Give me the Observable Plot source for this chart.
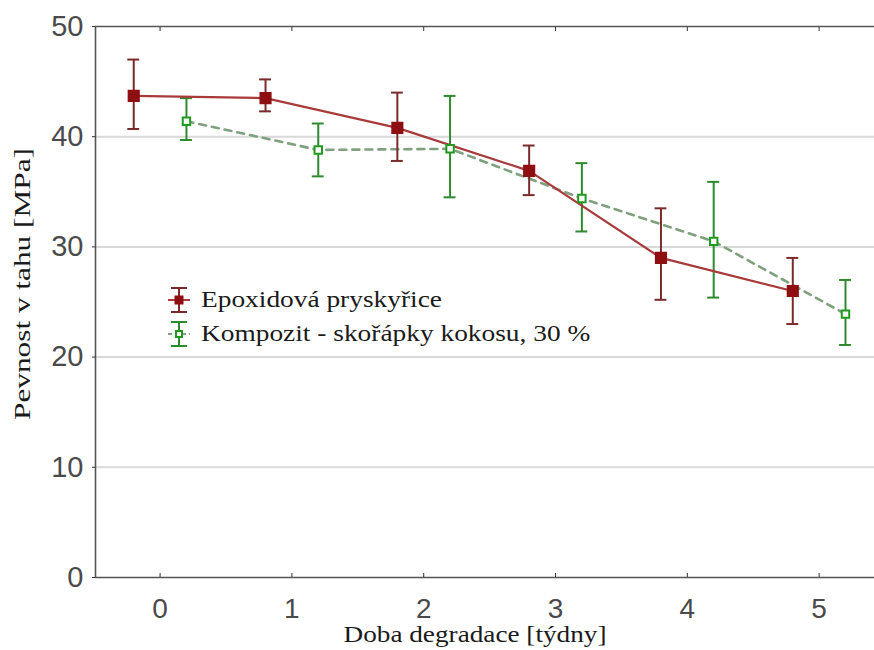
<!DOCTYPE html>
<html>
<head>
<meta charset="utf-8">
<script src="https://cdn.jsdelivr.net/npm/d3@7"></script>
<script src="https://cdn.jsdelivr.net/npm/@observablehq/plot@0.6"></script>
<style>
  html, body { margin: 0; padding: 0; background: #fff; }
  #wrap { position: relative; width: 874px; height: 650px; overflow: hidden; }
  #legend { position: absolute; left: 165px; top: 283px; font-family: "Liberation Serif", "DejaVu Serif", serif; font-size: 23px; color: #1a1a1a; }
  #legend .row { display: flex; align-items: center; height: 34px; white-space: nowrap; }
  #legend svg { margin-right: 8px; flex: none; }
  #legend span { display: inline-block; transform: scaleX(1.19); transform-origin: left center; }
</style>
</head>
<body>
<div id="wrap">
  <div id="chart"></div>
  <div id="legend"></div>
</div>
<script>
// ---- data ----
const weeks = [0, 1, 2, 3, 4, 5];
const seriesNames = ["Epoxidová pryskyřice", "Kompozit - skořápky kokosu, 30 %"];
const epoxyMean = [43.7, 43.5, 40.8, 36.9, 29.0, 26.0];
const epoxyLow  = [40.7, 42.3, 37.8, 34.7, 25.2, 23.0];
const epoxyHigh = [47.0, 45.2, 44.0, 39.2, 33.5, 29.0];
const compMean  = [41.4, 38.8, 38.9, 34.4, 30.5, 23.9];
const compLow   = [39.7, 36.4, 34.5, 31.4, 25.4, 21.1];
const compHigh  = [43.5, 41.2, 43.7, 37.6, 35.9, 27.0];
const xTicks = [0, 1, 2, 3, 4, 5];
const yTicks = [0, 10, 20, 30, 40, 50];
const xTitle = "Doba degradace [týdny]";
const yTitle = "Pevnost v tahu [MPa]";

// ---- styling ----
const dodge = 0.2;
const capHalf = 0.045;
const redLine = "#a83a3a", redMark = "#8e0f12", redBar = "#7a2a2a";
const greenMark = "#1e9a1e", greenBar = "#2e8a2e", greenLine = "#7fa07f";
const serif = "Liberation Serif, Times New Roman, serif";
const sans = "Liberation Sans, Arial, sans-serif";

const epoxy = weeks.map((w, i) => ({x: w - dodge, y: epoxyMean[i], lo: epoxyLow[i], hi: epoxyHigh[i]}));
const comp  = weeks.map((w, i) => ({x: w + dodge, y: compMean[i], lo: compLow[i], hi: compHigh[i]}));

const caps = (arr) => arr.flatMap(d => [{x1: d.x - capHalf, x2: d.x + capHalf, y: d.lo}, {x1: d.x - capHalf, x2: d.x + capHalf, y: d.hi}]);

const xDomain = [-0.49, 5.42];
const chart = Plot.plot({
  width: 874,
  height: 650,
  marginLeft: 95,
  marginRight: 0,
  marginTop: 26,
  marginBottom: 73,
  style: {background: "transparent", overflow: "visible"},
  x: {domain: xDomain},
  y: {domain: [0, 50]},
  marks: [
    Plot.ruleY(yTicks.slice(1, -1), {stroke: "#d9d9d9", strokeWidth: 2}),
    // frame lines
    Plot.ruleY([0, 50], {stroke: "#555", strokeWidth: 1.6}),
    Plot.ruleX([xDomain[0]], {stroke: "#555", strokeWidth: 1.6}),
    Plot.axisY({ticks: yTicks, tickSize: 3, tickPadding: 9, stroke: "#333",
      fontSize: 29, fill: "#4a4a4a", fontFamily: sans, label: null}),
    Plot.axisX({ticks: xTicks, tickFormat: d3.format("d"), tickSize: -4, tickPadding: 25, stroke: "#333",
      fontSize: 28, fill: "#4a4a4a", fontFamily: sans, label: null}),
    Plot.axisX({anchor: "top", ticks: xTicks, tickSize: -4, tickFormat: () => "", stroke: "#333", label: null}),
    // composite (green, dashed)
    Plot.line(comp, {x: "x", y: "y", stroke: greenLine, strokeWidth: 2.6, strokeDasharray: "7,6"}),
    Plot.ruleX(comp, {x: "x", y1: "lo", y2: "hi", stroke: greenBar, strokeWidth: 2}),
    Plot.ruleY(caps(comp), {x1: "x1", x2: "x2", y: "y", stroke: greenBar, strokeWidth: 2}),
    // epoxy (red, solid)
    Plot.line(epoxy, {x: "x", y: "y", stroke: redLine, strokeWidth: 2.2}),
    Plot.ruleX(epoxy, {x: "x", y1: "lo", y2: "hi", stroke: redBar, strokeWidth: 2}),
    Plot.ruleY(caps(epoxy), {x1: "x1", x2: "x2", y: "y", stroke: redBar, strokeWidth: 2}),
    Plot.dot(epoxy, {x: "x", y: "y", symbol: "square", r: 6, fill: redMark, stroke: redMark}),
    Plot.dot(comp, {x: "x", y: "y", symbol: "square", r: 4.2, fill: "white", stroke: greenMark, strokeWidth: 2}),
    // axis titles
    Plot.text([xTitle], {frameAnchor: "bottom", dy: 64, dx: -10, text: d => d, fontSize: 23,
      fontFamily: serif, fill: "#1a1a1a"}),
    Plot.text([yTitle], {frameAnchor: "left", dx: -73, dy: 118, rotate: -90, textAnchor: "start", text: d => d, fontSize: 23,
      fontFamily: serif, fill: "#1a1a1a"})
  ]
});
// stretch the serif titles to the reference's wider letterforms
chart.querySelectorAll("text").forEach(t => {
  if (t.textContent === xTitle) { t.setAttribute("textLength", 263); t.setAttribute("lengthAdjust", "spacingAndGlyphs"); }
  if (t.textContent === yTitle) { t.setAttribute("textLength", 272); t.setAttribute("lengthAdjust", "spacingAndGlyphs"); }
});
document.getElementById("chart").appendChild(chart);

// ---- legend ----
const legend = document.getElementById("legend");
const icons = [
  `<svg width="28" height="32"><line x1="14" y1="4" x2="14" y2="28" stroke="${redBar}" stroke-width="2"/><line x1="6" y1="4" x2="22" y2="4" stroke="${redBar}" stroke-width="2"/><line x1="6" y1="28" x2="22" y2="28" stroke="${redBar}" stroke-width="2"/><line x1="3" y1="16" x2="25" y2="16" stroke="${redLine}" stroke-width="2"/><rect x="9.5" y="11.5" width="9" height="9" fill="${redMark}"/></svg>`,
  `<svg width="28" height="32"><line x1="14" y1="4" x2="14" y2="28" stroke="${greenBar}" stroke-width="2"/><line x1="6" y1="4" x2="22" y2="4" stroke="${greenBar}" stroke-width="2"/><line x1="6" y1="28" x2="22" y2="28" stroke="${greenBar}" stroke-width="2"/><line x1="3" y1="16" x2="25" y2="16" stroke="${greenLine}" stroke-width="2" stroke-dasharray="4,3"/><rect x="11" y="13" width="6" height="6" fill="white" stroke="${greenMark}" stroke-width="2"/></svg>`
];
seriesNames.forEach((name, i) => {
  const row = document.createElement("div");
  row.className = "row";
  row.innerHTML = icons[i] + `<span>${name}</span>`;
  legend.appendChild(row);
});
</script>
</body>
</html>
